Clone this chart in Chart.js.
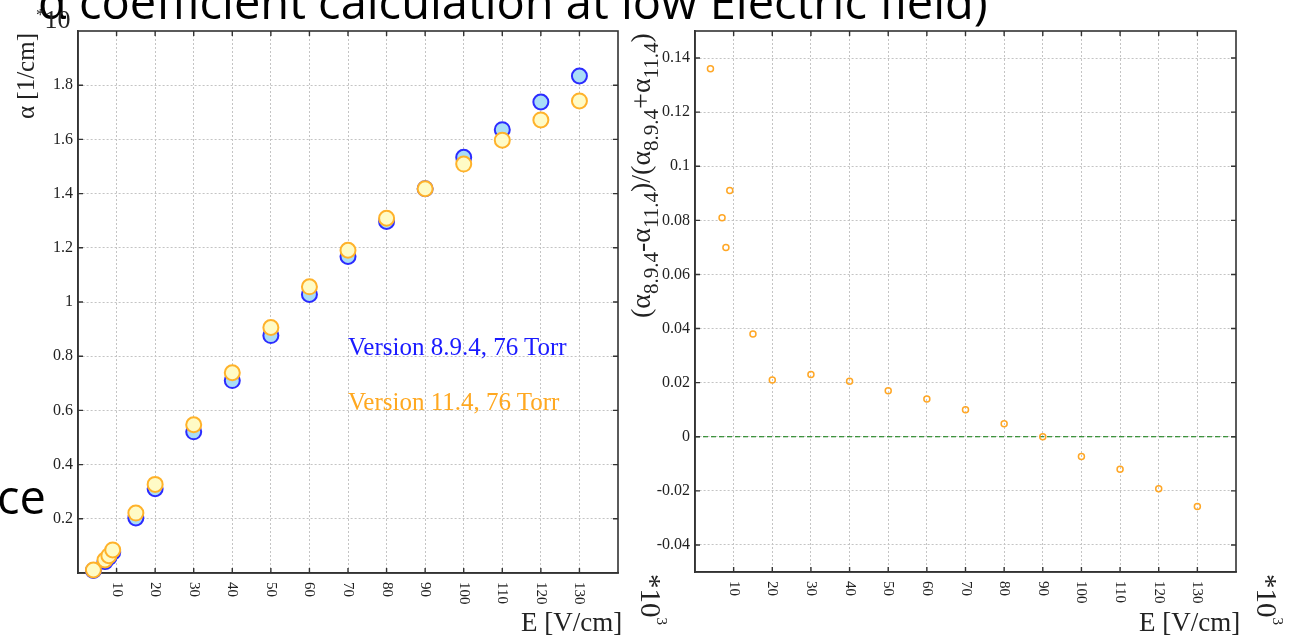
<!DOCTYPE html>
<html>
<head>
<meta charset="utf-8">
<script src="https://cdn.jsdelivr.net/npm/chart.js@4/dist/chart.umd.min.js"></script>
<style>
  body { margin: 0; width: 1294px; height: 637px; overflow: hidden; background: #fff; position: relative; }
  canvas { position: absolute; top: 0; }
  #alphaChart { left: 0; }
  #ratioChart { left: 620px; }
  #notes { position: absolute; left: 0; top: 0; pointer-events: none; }
</style>
</head>
<body>
<canvas id="alphaChart" width="640" height="637"></canvas>
<canvas id="ratioChart" width="640" height="637"></canvas>
<svg id="notes" width="1294" height="637" xmlns="http://www.w3.org/2000/svg">
  <g font-family="Open Sans" fill="#000">
    <text x="38" y="19" font-size="47">α coefficient calculation at low Electric field)</text>
    <text x="-3" y="514" font-size="47">ce</text>
  </g>
  <g font-family="Liberation Serif" fill="#222">
    <text x="36" y="28" font-size="26"><tspan font-size="17" dy="-8">*</tspan><tspan dy="8">10</tspan></text>
    <text transform="translate(34,119) rotate(-90)" font-size="25">α [1/cm]</text>
    <text transform="translate(650,318) rotate(-90)" font-size="28">(α<tspan font-size="21" dy="8">8.9.4</tspan><tspan dy="-8">-α</tspan><tspan font-size="21" dy="8">11.4</tspan><tspan dy="-8">)/(α</tspan><tspan font-size="21" dy="8">8.9.4</tspan><tspan dy="-8">+α</tspan><tspan font-size="21" dy="8">11.4</tspan><tspan dy="-8">)</tspan></text>
    <text x="521" y="631" font-size="27">E [V/cm]</text>
    <text x="1139" y="631" font-size="27">E [V/cm]</text>
    <text transform="translate(641,574) rotate(90)" font-size="29">*10<tspan font-size="15" dy="-16">3</tspan></text>
    <text transform="translate(1257,574) rotate(90)" font-size="29">*10<tspan font-size="15" dy="-16">3</tspan></text>
  </g>
  <g font-family="Liberation Serif" font-size="25">
    <text x="348" y="355" fill="#1a1aff">Version 8.9.4, 76 Torr</text>
    <text x="348" y="410" fill="#ffa820">Version 11.4, 76 Torr</text>
  </g>
</svg>
<script>
// electric field points (x10^3 V/cm)
const fieldE = [4, 7, 8, 9, 15, 20, 30, 40, 50, 60, 70, 80, 90, 100, 110, 120, 130];
// first Townsend coefficient, 76 Torr
const alphaV894 = [0.009, 0.042, 0.057, 0.077, 0.203, 0.311, 0.521, 0.710, 0.876, 1.028, 1.168, 1.297, 1.418, 1.534, 1.636, 1.738, 1.834];
const alphaV114 = [0.011, 0.048, 0.064, 0.085, 0.221, 0.327, 0.547, 0.739, 0.906, 1.056, 1.191, 1.309, 1.418, 1.509, 1.597, 1.672, 1.742];
// relative difference between the two versions
const alphaDiff = [0.136, 0.081, 0.070, 0.091, 0.038, 0.021, 0.023, 0.0205, 0.017, 0.014, 0.010, 0.0048, 0.0, -0.0073, -0.012, -0.0192, -0.0258];

const eTicks = [10, 20, 30, 40, 50, 60, 70, 80, 90, 100, 110, 120, 130];
const alphaTicks = [0.2, 0.4, 0.6, 0.8, 1, 1.2, 1.4, 1.6, 1.8];
const diffTicks = [-0.04, -0.02, 0, 0.02, 0.04, 0.06, 0.08, 0.1, 0.12, 0.14];

const serif = '"Liberation Serif", "Times New Roman", serif';
const gridColor = '#c4c4c4';
const frameColor = '#333';

function pairs(xs, ys) {
  return xs.map((x, i) => ({x: x, y: ys[i]}));
}

// box around the plot, inward tick marks and vertical x labels
const framePlugin = {
  id: 'framePlugin',
  beforeDatasetsDraw(chart, args, opts) {
    const ctx = chart.ctx;
    const a = chart.chartArea;
    const xs = chart.scales.x, ys = chart.scales.y;
    ctx.save();
    if (opts.zeroLine) {
      const y0 = ys.getPixelForValue(0);
      ctx.strokeStyle = '#0a7a0a';
      ctx.lineWidth = 1.2;
      ctx.setLineDash([5, 3]);
      ctx.beginPath();
      ctx.moveTo(a.left, y0);
      ctx.lineTo(a.right, y0);
      ctx.stroke();
      ctx.setLineDash([]);
    }
    ctx.strokeStyle = frameColor;
    ctx.lineWidth = 1.6;
    ctx.strokeRect(a.left, a.top, a.right - a.left, a.bottom - a.top);
    ctx.lineWidth = 1.4;
    ctx.beginPath();
    xs.ticks.forEach(t => {
      const px = xs.getPixelForValue(t.value);
      ctx.moveTo(px, a.top); ctx.lineTo(px, a.top + 5);
      ctx.moveTo(px, a.bottom); ctx.lineTo(px, a.bottom - 5);
    });
    ys.ticks.forEach(t => {
      const py = ys.getPixelForValue(t.value);
      ctx.moveTo(a.left, py); ctx.lineTo(a.left + 5, py);
      ctx.moveTo(a.right, py); ctx.lineTo(a.right - 5, py);
    });
    ctx.stroke();
    ctx.fillStyle = '#222';
    ctx.font = '15px ' + serif;
    ctx.textAlign = 'left';
    ctx.textBaseline = 'middle';
    xs.ticks.forEach(t => {
      const px = xs.getPixelForValue(t.value);
      ctx.save();
      ctx.translate(px, a.bottom + 9);
      ctx.rotate(Math.PI / 2);
      ctx.fillText(String(t.value), 0, 0);
      ctx.restore();
    });
    ctx.restore();
  }
};

function axes(yMin, yMax, yTicks, yWidth, xHeight) {
  const grid = {color: gridColor, lineWidth: 1, drawTicks: false};
  const border = {color: frameColor, width: 1.6, dash: [2, 2]};
  return {
    x: {
      type: 'linear', min: 0, max: 140,
      afterBuildTicks: s => { s.ticks = eTicks.map(v => ({value: v})); },
      afterFit: s => { s.height = xHeight; },
      ticks: {display: false},
      grid: grid, border: border
    },
    y: {
      type: 'linear', min: yMin, max: yMax,
      afterBuildTicks: s => { s.ticks = yTicks.map(v => ({value: v})); },
      afterFit: s => { s.width = yWidth; },
      ticks: {
        font: {family: serif, size: 16}, color: '#222', padding: 5,
        callback: v => String(+Number(v).toFixed(2))
      },
      grid: grid, border: border
    }
  };
}

new Chart(document.getElementById('alphaChart'), {
  type: 'scatter',
  data: {
    datasets: [{
      label: 'Version 11.4, 76 Torr',
      data: pairs(fieldE, alphaV114),
      order: 0,
      clip: false,
      pointRadius: 7.5,
      pointBorderWidth: 2,
      pointBackgroundColor: '#fffbc6',
      pointBorderColor: '#ffb22a'
    }, {
      label: 'Version 8.9.4, 76 Torr',
      data: pairs(fieldE, alphaV894),
      order: 1,
      clip: false,
      pointRadius: 7.5,
      pointBorderWidth: 2,
      pointBackgroundColor: '#a9ddf7',
      pointBorderColor: '#2b2bff'
    }]
  },
  options: {
    responsive: false,
    animation: false,
    layout: {padding: {top: 31, right: 22, left: 0, bottom: 0}},
    scales: axes(0, 2, alphaTicks, 78, 64),
    plugins: {legend: {display: false}, tooltip: {enabled: false}, framePlugin: {zeroLine: false}}
  },
  plugins: [framePlugin]
});

new Chart(document.getElementById('ratioChart'), {
  type: 'scatter',
  data: {
    datasets: [{
      label: 'relative difference',
      data: pairs(fieldE, alphaDiff),
      clip: false,
      pointRadius: 3,
      pointBorderWidth: 1.5,
      pointBackgroundColor: 'rgba(255,255,255,0)',
      pointBorderColor: '#ffa726'
    }]
  },
  options: {
    responsive: false,
    animation: false,
    layout: {padding: {top: 31, right: 24, left: 0, bottom: 0}},
    scales: axes(-0.05, 0.15, diffTicks, 75, 65),
    plugins: {legend: {display: false}, tooltip: {enabled: false}, framePlugin: {zeroLine: true}}
  },
  plugins: [framePlugin]
});
</script>
</body>
</html>
